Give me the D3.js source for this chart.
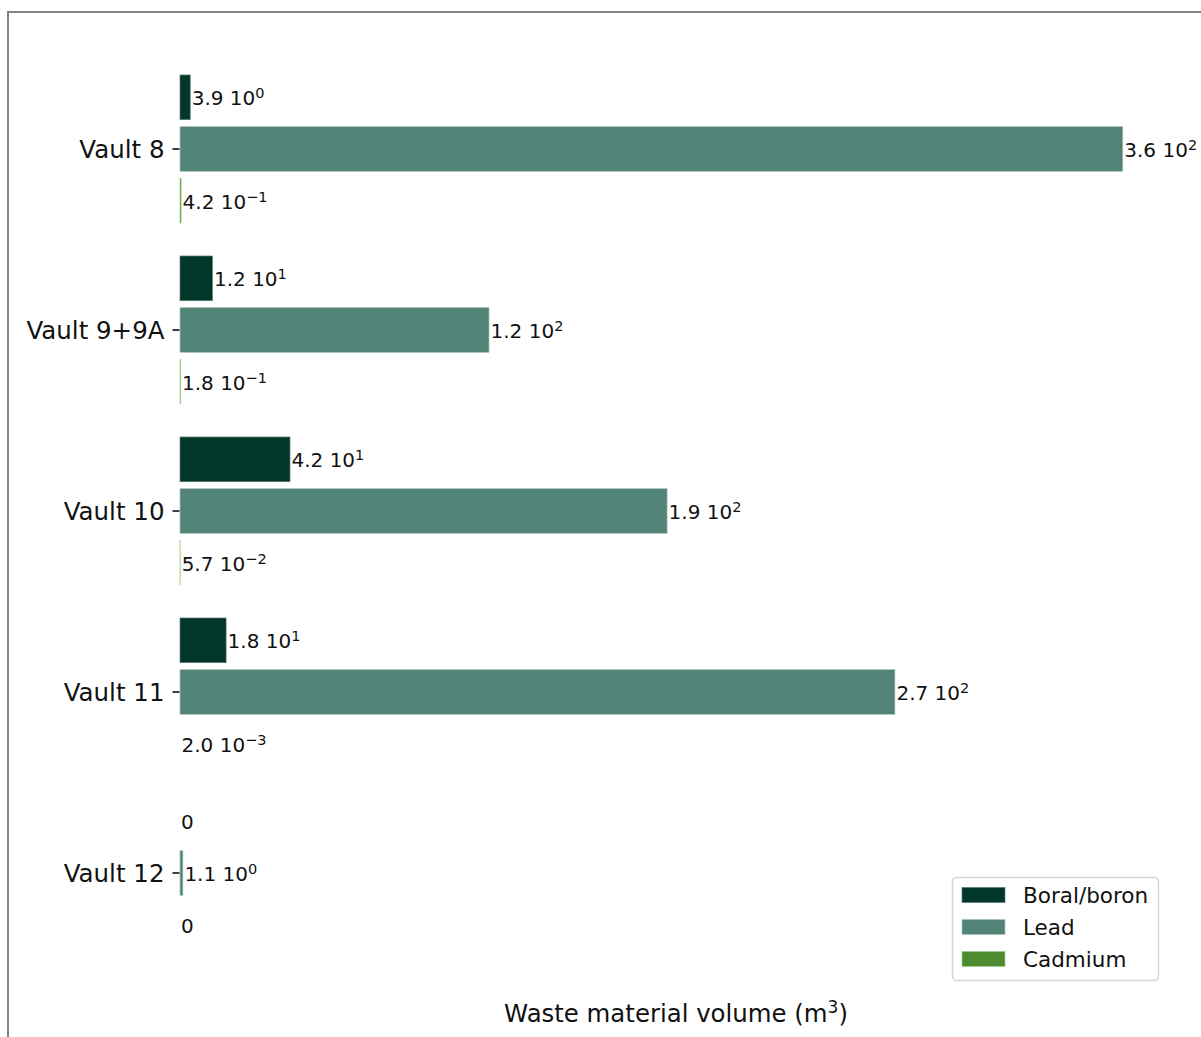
<!DOCTYPE html>
<html>
<head>
<meta charset="utf-8">
<script src="https://cdn.jsdelivr.net/npm/d3@7"></script>
<style>
  body { margin: 0; background: #fff; }
  svg { font-family: "DejaVu Sans", sans-serif; display: block; }
</style>
</head>
<body>
<div id="chart"></div>
<script>
// data
var vaults = ["Vault 8", "Vault 9+9A", "Vault 10", "Vault 11", "Vault 12"];
var series = ["Boral/boron", "Lead", "Cadmium"];
var boral = [3.9, 12.4, 42, 17.6, 0];
var lead = [360, 118, 186, 273, 1.1];
var cadmium = [0.42, 0.18, 0.057, 0.002, 0];
var colors = ["#01372a", "#528377", "#4e8a2e"];
var edges = ["#5f7a72", "#a9c2bb", "#9fcd86"];

var svgWidth = 1201, svgHeight = 1037;

var svg = d3.select("#chart").append("svg")
    .attr("width", svgWidth)
    .attr("height", svgHeight);

// outer frame (cut off on the right and bottom)
svg.append("rect")
    .attr("x", 8)
    .attr("y", 12)
    .attr("width", 1300)
    .attr("height", 1200)
    .attr("fill", "none")
    .attr("stroke", "#858585")
    .attr("stroke-width", 2);

var xScale = d3.scaleLinear()
    .domain([0, 378.8])
    .range([180, 1172]);

var yScale = d3.scaleBand()
    .domain(vaults)
    .range([58.5, 963.5]);

var inner = d3.scaleBand()
    .domain(series)
    .range([-77.5, 77.5])
    .paddingInner(0.135)
    .paddingOuter(0.0675);

var values = [boral, lead, cadmium];
var rows = [];
vaults.forEach(function(v, i) {
    series.forEach(function(s, j) {
        rows.push({ vault: v, series: s, idx: j, value: values[j][i] });
    });
});

function yPos(d) {
    return yScale(d.vault) + yScale.bandwidth() / 2 + inner(d.series);
}

// bars
svg.append("g").selectAll("rect")
    .data(rows)
    .enter()
    .append("rect")
    .attr("x", xScale(0))
    .attr("y", d => yPos(d))
    .attr("width", d => xScale(d.value) - xScale(0))
    .attr("height", inner.bandwidth())
    .attr("fill", d => colors[d.idx])
    .attr("stroke", d => d.value > 0.01 ? edges[d.idx] : "none")
    .attr("stroke-width", 0.7);

// value labels like "3.9 10^2"
var labels = svg.append("g").selectAll("text")
    .data(rows)
    .enter()
    .append("text")
    .attr("x", d => xScale(d.value) + 1.5)
    .attr("y", d => yPos(d) + inner.bandwidth() / 2 + 8)
    .attr("font-size", 20)
    .attr("fill", "#111");

labels.each(function(d) {
    var t = d3.select(this);
    if (d.value === 0) {
        t.attr("x", xScale(0) + 1).text("0");
        return;
    }
    var e = Math.floor(Math.log10(d.value));
    var m = d.value / Math.pow(10, e);
    if (m >= 9.95) { m = m / 10; e = e + 1; }
    t.append("tspan").text(m.toFixed(1) + " 10");
    t.append("tspan")
        .attr("dy", -7)
        .attr("font-size", 14.5)
        .text(e < 0 ? "\u2212" + Math.abs(e) : String(e));
});

// y axis
var leftAxis = d3.axisLeft(yScale).tickSize(7).tickPadding(8);
var yAxis = svg.append("g")
    .attr("transform", "translate(179.5,0)")
    .call(leftAxis);
yAxis.select(".domain").remove();
yAxis.selectAll(".tick line").attr("stroke", "#111").attr("stroke-width", 1.6);
yAxis.selectAll(".tick text")
    .attr("font-size", 24.5)
    .attr("font-family", "DejaVu Sans")
    .attr("dy", "0.38em")
    .attr("fill", "#111");

// x axis title
var xt = svg.append("text")
    .attr("x", 676)
    .attr("y", 1022)
    .attr("text-anchor", "middle")
    .attr("font-size", 24.4)
    .attr("fill", "#111");
xt.append("tspan").text("Waste material volume (m");
xt.append("tspan").attr("dy", -9).attr("font-size", 17).text("3");
xt.append("tspan").attr("dy", 9).text(")");

// legend
var legend = svg.append("g");
legend.append("rect")
    .attr("x", 952.5)
    .attr("y", 877.5)
    .attr("width", 206)
    .attr("height", 103)
    .attr("rx", 4)
    .attr("fill", "#fff")
    .attr("stroke", "#d4d4d4")
    .attr("stroke-width", 1.5);

var items = legend.selectAll("g.item")
    .data(series)
    .enter()
    .append("g")
    .attr("class", "item")
    .attr("transform", (d, i) => `translate(0, ${895 + i * 32})`);

items.append("rect")
    .attr("x", 962)
    .attr("y", -7.5)
    .attr("width", 43)
    .attr("height", 15)
    .attr("fill", (d, i) => colors[i])
    .attr("stroke", (d, i) => edges[i])
    .attr("stroke-width", 0.7);

items.append("text")
    .attr("x", 1023)
    .attr("y", 7.5)
    .attr("font-size", 21.5)
    .attr("fill", "#111")
    .text(d => d);
</script>
</body>
</html>
